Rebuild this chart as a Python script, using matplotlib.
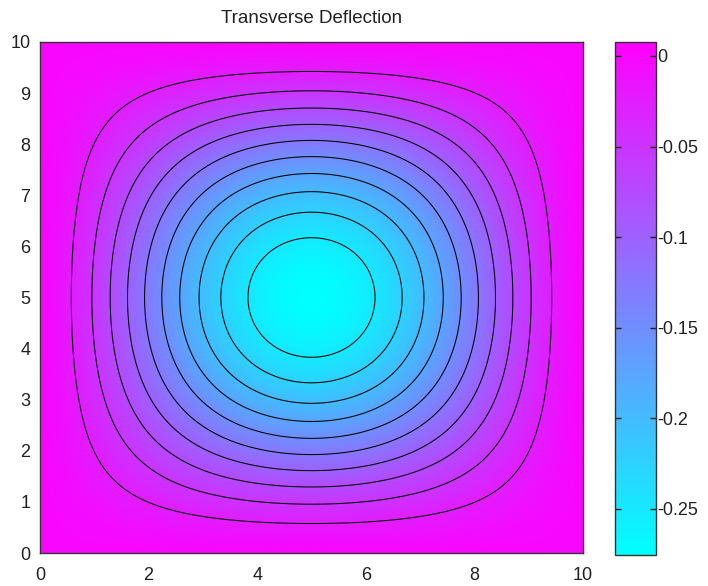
import numpy as np
import matplotlib
matplotlib.use("Agg")
import matplotlib.pyplot as plt

# ---- data ----
plate_size = 10.0
center_deflection = -0.2754          # deflection at plate centre
profile_exponent = 1.4               # shape of the deflected surface
color_limits = [-0.2754, 0.0077]
contour_levels = [-0.25, -0.225, -0.2, -0.175, -0.15, -0.125, -0.1, -0.075, -0.05, -0.025]
axis_ticks = [0, 2, 4, 6, 8, 10]
axis_yticks = [0, 1, 2, 3, 4, 5, 6, 7, 8, 9, 10]
cbar_ticks = [0, -0.05, -0.1, -0.15, -0.2, -0.25]
cbar_ticklabels = ["0", "-0.05", "-0.1", "-0.15", "-0.2", "-0.25"]
title_text = "Transverse Deflection"

plt.rcParams['font.family'] = ['Liberation Sans', 'DejaVu Sans']

x = np.linspace(0, plate_size, 401)
y = np.linspace(0, plate_size, 401)
X, Y = np.meshgrid(x, y)
S = np.clip(np.sin(np.pi * X / plate_size) * np.sin(np.pi * Y / plate_size), 0, None)
W = center_deflection * S ** profile_exponent

fig = plt.figure(figsize=(7.08, 5.86), dpi=100)
ax = fig.add_axes([40/708, 1-553/586, 543/708, 511/586])
cax = fig.add_axes([615/708, 1-555/586, 41/708, 513/586])

im = ax.pcolormesh(X, Y, W, cmap='cool', vmin=color_limits[0], vmax=color_limits[1],
                   shading='gouraud', rasterized=True)
ax.contour(X, Y, W, levels=contour_levels, colors='black', linewidths=0.75,
           linestyles='solid')
ax.set_xlim(0, plate_size)
ax.set_ylim(0, plate_size)
ax.set_xticks(axis_ticks)
ax.set_yticks(axis_yticks)
ax.tick_params(length=0, labelsize=13, colors='#222222')
ax.tick_params(axis='x', pad=10)
ax.tick_params(axis='y', pad=7)
for s in ax.spines.values():
    s.set_color('#333333')
    s.set_linewidth(1.0)
ax.set_title(title_text, fontsize=13.5, pad=14, color='#222222')

cb = fig.colorbar(im, cax=cax)
cb.set_ticks(cbar_ticks)
cb.set_ticklabels(cbar_ticklabels)
cax.tick_params(direction='in', length=4, width=1, labelsize=13, pad=1, colors='#222222',
                left=True, right=True)
cb.outline.set_edgecolor('#333333')
cb.outline.set_linewidth(1.0)

fig.savefig('out.png', dpi=100)
